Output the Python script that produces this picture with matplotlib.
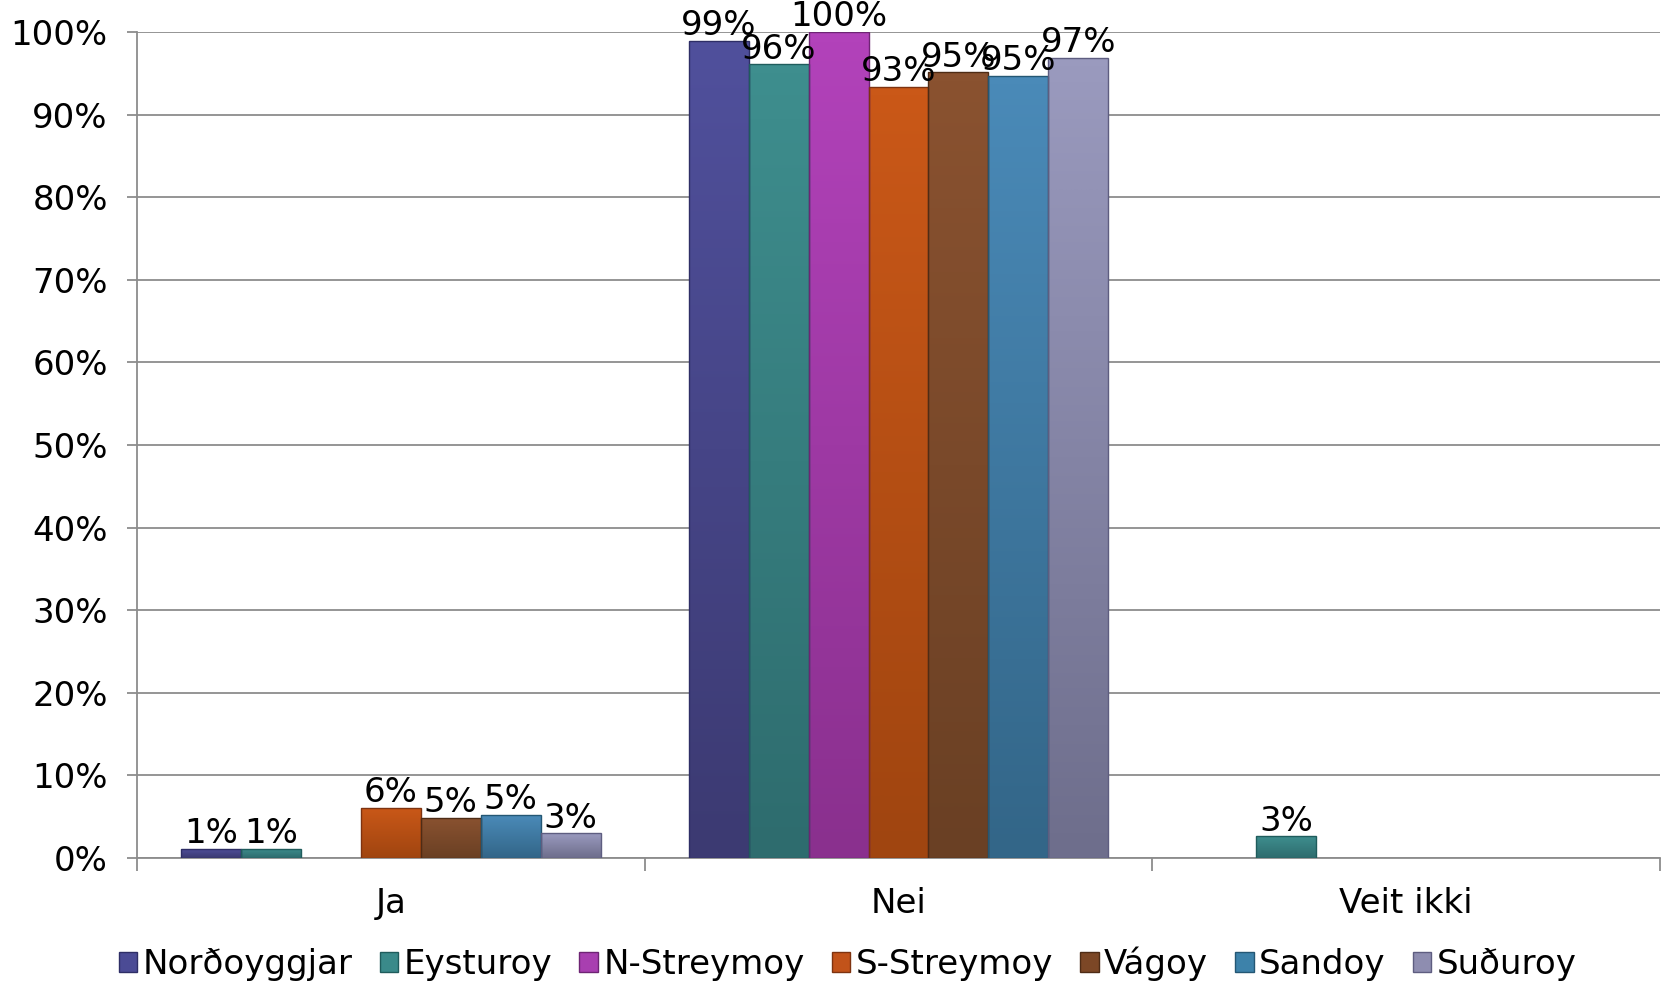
import matplotlib
matplotlib.use("Agg")
import matplotlib.pyplot as plt
import matplotlib.colors as mcolors
import numpy as np

plt.rcParams['font.family'] = ['DejaVu Sans']

categories = ["Ja", "Nei", "Veit ikki"]
series = ["Norðoyggjar", "Eysturoy", "N-Streymoy", "S-Streymoy", "Vágoy", "Sandoy", "Suðuroy"]
# values per series across categories (Ja, Nei, Veit ikki)
nordoyggjar = [1.1, 98.9, 0]
eysturoy = [1.1, 96.1, 2.6]
n_streymoy = [0, 100.0, 0]
s_streymoy = [6.1, 93.4, 0]
vagoy = [4.9, 95.1, 0]
sandoy = [5.2, 94.7, 0]
suduroy = [3.0, 96.9, 0]
values = [nordoyggjar, eysturoy, n_streymoy, s_streymoy, vagoy, sandoy, suduroy]
yticks = [0, 10, 20, 30, 40, 50, 60, 70, 80, 90, 100]

top_colors = ["#50509c", "#3e8e8e", "#b242ba", "#ca5818", "#8a5230", "#4a8ab8", "#9a9abe"]
bot_colors = ["#3c3a72", "#2e6c6e", "#8a308e", "#a04510", "#6a4024", "#336688", "#6e6e8c"]
mid_colors = ["#4b4b95", "#3a8a8a", "#a83fb0", "#c2531a", "#7c4726", "#3d82aa", "#8e8db0"]
edges = ["#2e2e66", "#1f5c5c", "#6e2474", "#7e3310", "#4e2c16", "#245774", "#5e5d80"]

fig = plt.figure(figsize=(16.65, 9.82), dpi=100)
ax = fig.add_axes([0.0823, 0.1263, 0.9147, 0.8411])

x = np.arange(len(categories))
n = len(series)
w = 0.826 / n
FS = 24.5
for i, (name, vals) in enumerate(zip(series, values)):
    pos = x - 0.413 + w * (i + 0.5)
    bars = ax.bar(pos, vals, width=w, color=mid_colors[i], edgecolor=edges[i],
                  linewidth=1.0, zorder=3)
    cmap = mcolors.LinearSegmentedColormap.from_list(
        f"g{i}", [bot_colors[i], top_colors[i]])
    for b, v in zip(bars, vals):
        if v <= 0:
            b.set_visible(False)
            continue
        x0 = b.get_x()
        x1 = x0 + b.get_width()
        grad = np.linspace(1, 0, 64).reshape(-1, 1)
        im = ax.imshow(grad, cmap=cmap, vmin=0, vmax=1, aspect="auto",
                       extent=[x0, x1, 0, v], zorder=3.2, interpolation="bilinear")
        im.set_clip_path(b)
        b.set_facecolor("none")
        b.set_zorder(3.4)
        ax.annotate(f"{v:.0f}%", (x0 + b.get_width() / 2, v),
                    xytext=(0, -1), textcoords="offset points",
                    ha="center", va="bottom", fontsize=FS, color="black",
                    zorder=5)

handles = [plt.Rectangle((0, 0), 1, 1, facecolor=mid_colors[i], edgecolor=edges[i])
           for i in range(n)]

ax.set_xlim(-0.5, 2.5)
ax.set_ylim(0, 100)
ax.set_yticks(yticks)
ax.set_yticklabels([f"{t}%" for t in yticks], fontsize=FS)
ax.yaxis.grid(True, color="#8c8c8c", linewidth=1.3, zorder=0)
ax.set_axisbelow(True)

ax.set_xticks([-0.5, 0.5, 1.5, 2.5])
ax.set_xticklabels([])
ax.set_xticks(x, minor=True)
ax.set_xticklabels(categories, minor=True, fontsize=FS)
ax.tick_params(axis="x", which="major", length=9, color="#8c8c8c", width=1.3)
ax.tick_params(axis="x", which="minor", length=0, pad=21)
ax.tick_params(axis="y", length=7, color="#8c8c8c", width=1.3, pad=14)

for s in ["top", "right"]:
    ax.spines[s].set_visible(False)
for s in ["left", "bottom"]:
    ax.spines[s].set_color("#8c8c8c")
    ax.spines[s].set_linewidth(1.3)

fig.legend(handles, series, loc="center", bbox_to_anchor=(0.509, 0.0183), ncol=7,
           frameon=False, fontsize=FS, handlelength=0.55, handleheight=0.55,
           handletextpad=0.15, columnspacing=0.8)

fig.savefig("out.png", dpi=100)
